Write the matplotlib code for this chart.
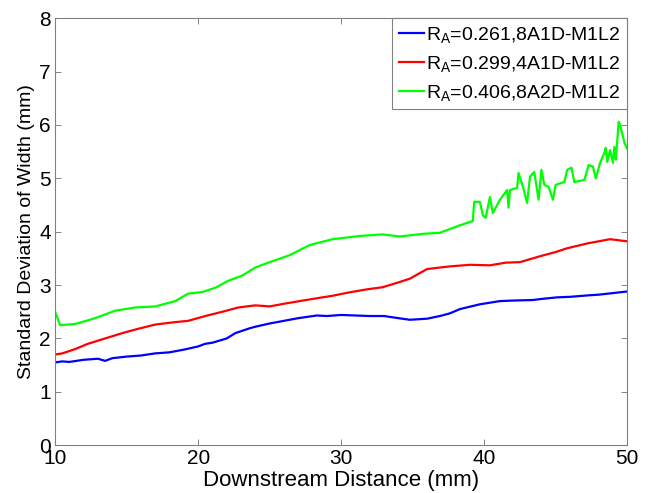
import numpy as np
import matplotlib
matplotlib.use("Agg")
import matplotlib.pyplot as plt

plt.rcParams['font.family'] = ['Liberation Sans', 'DejaVu Sans']
plt.rcParams['mathtext.fontset'] = 'custom'
plt.rcParams['mathtext.rm'] = 'Liberation Sans'

# values
blue_x = [10, 10.5, 11, 12, 13, 13.5, 14, 15, 16, 17, 18, 19, 20, 20.5, 21, 22, 22.6, 23.6,
          24, 25, 26, 27, 28.3, 29, 30, 31, 32, 33, 34, 34.8, 36, 36.9, 37.6, 38.3, 39.7,
          41.1, 42, 43.4, 44, 45.1, 46, 47.4, 48, 49, 50]
blue_y = [1.55, 1.57, 1.56, 1.6, 1.62, 1.58, 1.63, 1.66, 1.68, 1.72, 1.74, 1.79, 1.85, 1.9,
          1.92, 2.0, 2.1, 2.19, 2.22, 2.28, 2.33, 2.38, 2.43, 2.42, 2.44, 2.43, 2.42, 2.42,
          2.38, 2.35, 2.37, 2.42, 2.47, 2.55, 2.64, 2.7, 2.71, 2.72, 2.74, 2.77, 2.78, 2.81,
          2.82, 2.85, 2.88]

red_x = [10, 10.5, 11.4, 12.3, 13.5, 14.7, 15.8, 17, 18.2, 19.3, 20.5, 21.7, 22.8, 24, 25,
         26, 27.1, 28, 29.4, 30.5, 31.8, 32.9, 34, 34.8, 36, 37.6, 39, 40.4, 41.5, 42.5, 43.9,
         45, 45.8, 47.2, 48.8, 50]
red_y = [1.7, 1.72, 1.8, 1.9, 2.0, 2.1, 2.18, 2.26, 2.3, 2.33, 2.42, 2.5, 2.58, 2.62, 2.6,
         2.65, 2.7, 2.74, 2.8, 2.86, 2.92, 2.96, 3.05, 3.12, 3.3, 3.35, 3.38, 3.37, 3.42, 3.43,
         3.54, 3.62, 3.69, 3.78, 3.86, 3.82]

green_x = [10, 10.35, 11.4, 12.8, 14.2, 15.6, 17, 18.4, 19.3, 20.3, 21.2, 22.1, 23.1, 24, 25,
           26.4, 27.8, 29.4, 31.3, 32.9, 34.1, 35.7, 36.9, 37.6, 38.3, 39.2, 39.3, 39.7, 39.9,
           40.1, 40.4, 40.6, 41.1, 41.6, 41.7, 41.8, 42.3, 42.4, 42.7, 43.0, 43.2, 43.5, 43.8,
           44.0, 44.2, 44.5, 44.8, 45.0, 45.6, 45.8, 46.1, 46.3, 47.0, 47.3, 47.6, 47.8, 48.1,
           48.4, 48.5, 48.6, 48.8, 49.0, 49.1, 49.2, 49.4, 49.5, 49.8, 50]
green_y = [2.5, 2.25, 2.27, 2.38, 2.52, 2.58, 2.6, 2.7, 2.84, 2.87, 2.95, 3.08, 3.18, 3.33,
           3.43, 3.56, 3.75, 3.86, 3.92, 3.95, 3.91, 3.96, 3.98, 4.05, 4.12, 4.2, 4.56, 4.56,
           4.31, 4.26, 4.65, 4.35, 4.6, 4.78, 4.45, 4.78, 4.82, 5.1, 4.85, 4.54, 5.03, 5.12,
           4.6, 5.16, 4.88, 4.84, 4.6, 4.88, 4.93, 5.16, 5.2, 4.93, 4.97, 5.25, 5.22, 5.0, 5.29,
           5.48, 5.57, 5.31, 5.53, 5.29, 5.59, 5.35, 6.06, 6.0, 5.67, 5.55]

labels = [r'$\mathregular{R_A}$=0.261,8A1D-M1L2',
          r'$\mathregular{R_A}$=0.299,4A1D-M1L2',
          r'$\mathregular{R_A}$=0.406,8A2D-M1L2']
colors = ['#0000ff', '#ff0000', '#00ff00']

fig = plt.figure(figsize=(6.48, 4.93), dpi=100)
ax = fig.add_axes([0.085, 0.097, 0.883, 0.866])

for xs, ys, c, lab in zip([blue_x, red_x, green_x], [blue_y, red_y, green_y], colors, labels):
    ax.plot(xs, ys, color=c, lw=1.6, label=lab)

ax.set_xlim(10, 50)
ax.set_ylim(0, 8)
ax.set_xticks([10, 20, 30, 40, 50])
ax.set_yticks(range(0, 9))
ax.tick_params(direction='in', length=4, width=0.6, color='#707070',
               top=True, right=True, labelsize=15)
ax.tick_params(axis='x', pad=3)
ax.tick_params(axis='y', pad=3)
for s in ax.spines.values():
    s.set_color('#808080')
    s.set_linewidth(0.8)

ax.set_xlabel('Downstream Distance (mm)', fontsize=16, labelpad=1)
ax.set_ylabel('Standard Deviation of Width (mm)', fontsize=14, labelpad=3)

leg = ax.legend(loc='upper right', fontsize=14, borderaxespad=0, fancybox=False,
                handlelength=1.3, handletextpad=0.1, borderpad=0.35, labelspacing=0.45,
                framealpha=1)
leg.get_frame().set_edgecolor('#808080')
leg.get_frame().set_linewidth(0.8)

plt.savefig('out.png', dpi=100)
